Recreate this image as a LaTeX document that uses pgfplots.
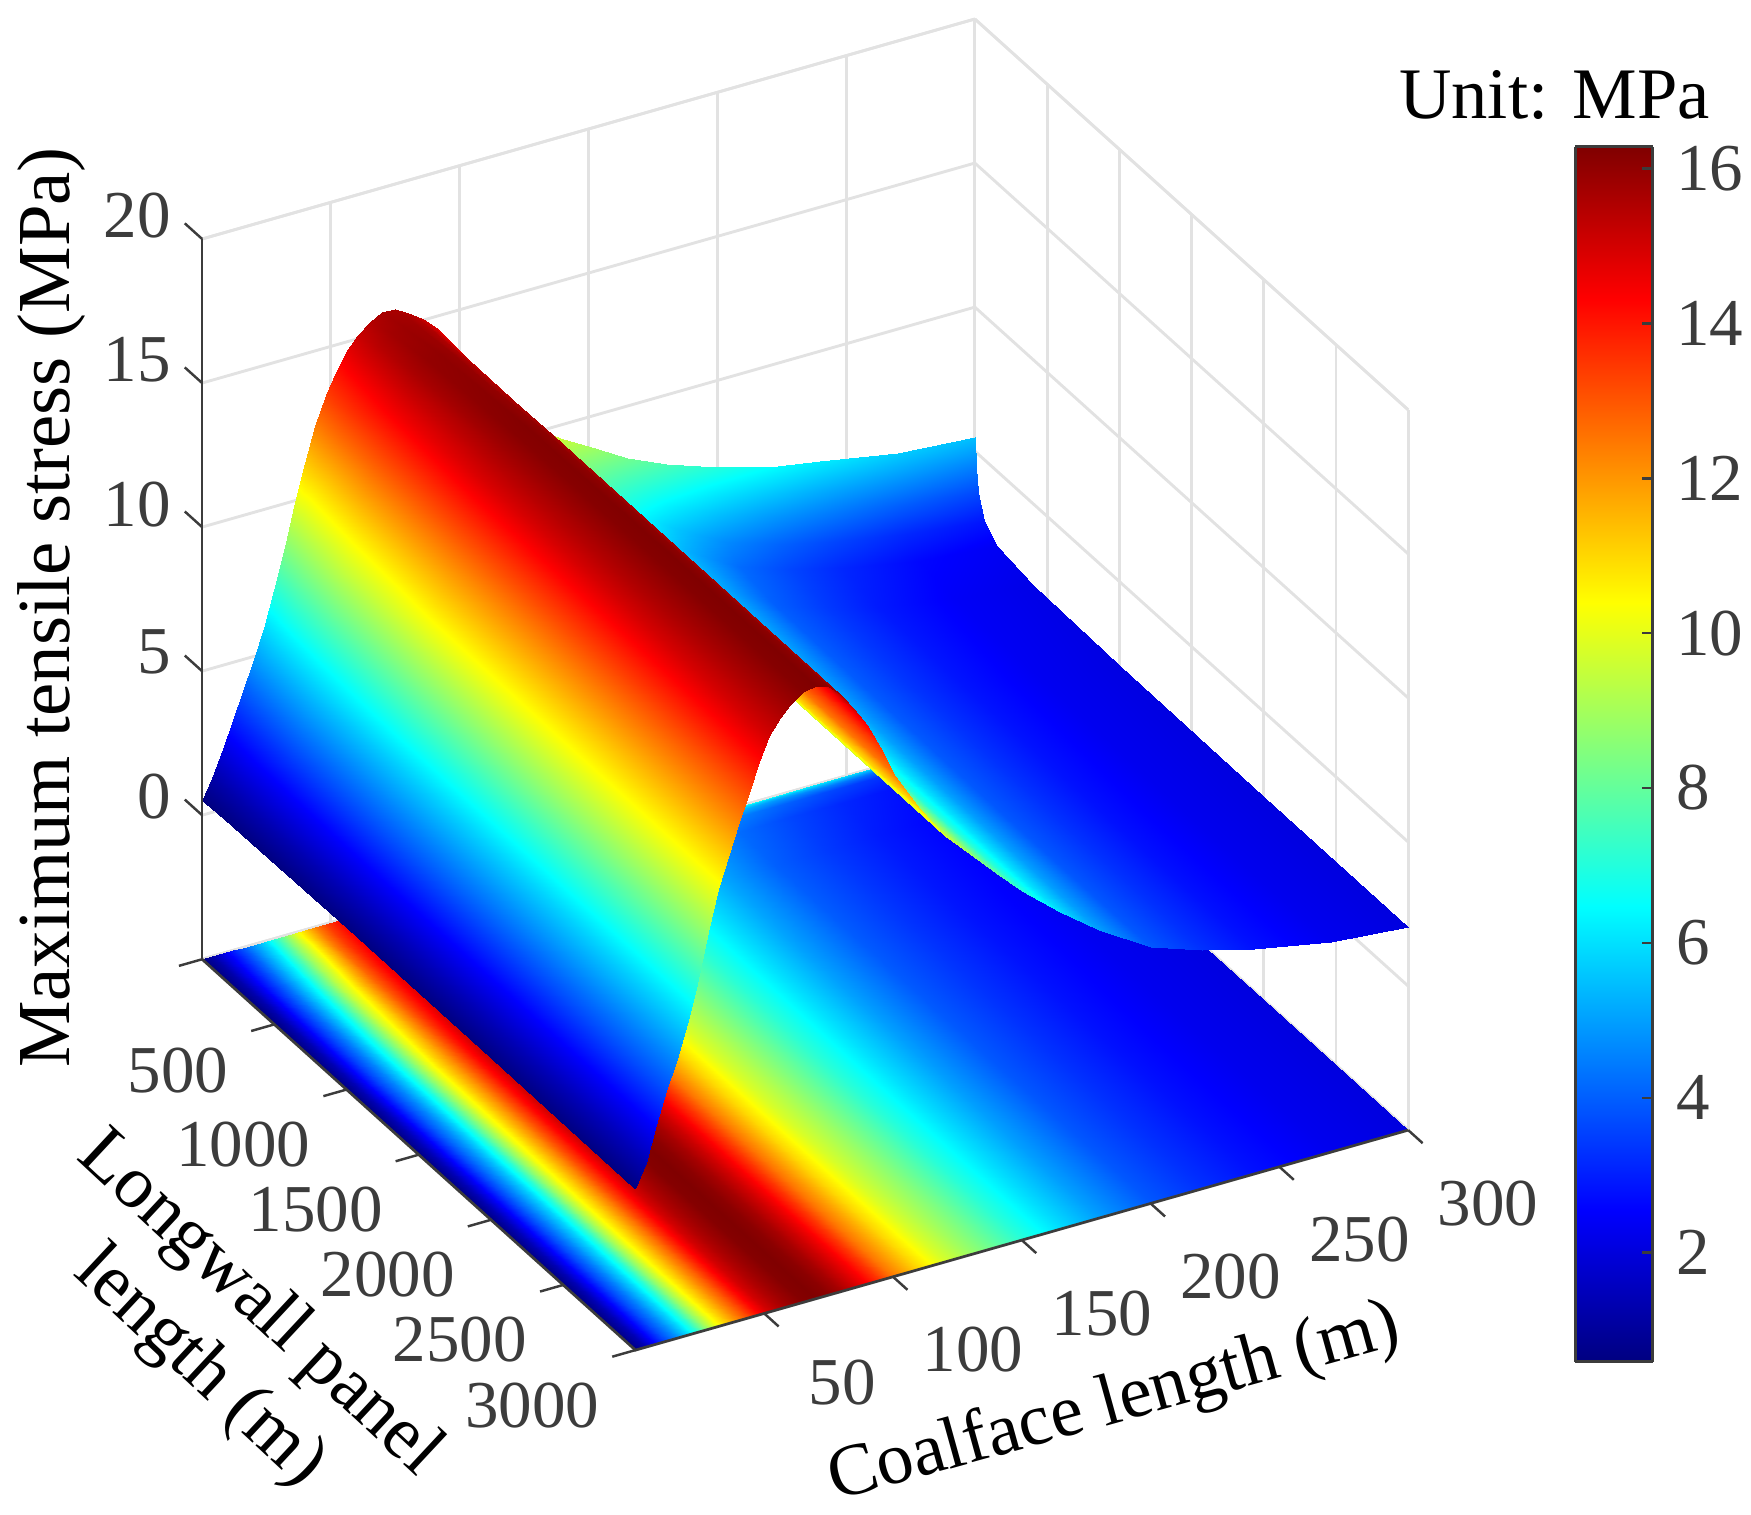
\documentclass[border=0pt]{standalone}
\usepackage{pgfplots}
\usepackage{pgfplotstable}
\usepackage{fontspec}
\setmainfont{Liberation Serif}
\pgfplotsset{compat=1.18}
\pgfplotstableread{
x y z
300 0 5.5
300 10 4.45
300 25 3.68
300 60 2.86
300 150 2.38
300 400 2.18
300 1000 2.1
300 2000 2.05
300 3000 2.05
270 0 5.7
270 10 4.75
270 25 4
270 60 3.15
270 150 2.64
270 400 2.44
270 1000 2.35
270 2000 2.3
270 3000 2.3
240 0 6.2
240 10 5.25
240 25 4.5
240 60 3.65
240 150 3.14
240 400 2.94
240 1000 2.85
240 2000 2.8
240 3000 2.8
220 0 6.5
220 10 5.6
220 25 4.9
220 60 4.1
220 150 3.62
220 400 3.43
220 1000 3.35
220 2000 3.3
220 3000 3.3
200 0 7
200 10 6.13
200 25 5.45
200 60 4.68
200 150 4.21
200 400 4.02
200 1000 3.95
200 2000 3.9
200 3000 3.9
180 0 7.6
180 10 6.87
180 25 6.3
180 60 5.65
180 150 5.26
180 400 5.1
180 1000 5.04
180 2000 5
180 3000 5
165 0 8.2
165 10 7.58
165 25 7.1
165 60 6.55
165 150 6.22
165 400 6.09
165 1000 6.03
165 2000 6
165 3000 6
150 0 9
150 10 8.47
150 25 8.05
150 60 7.58
150 150 7.29
150 400 7.18
150 1000 7.13
150 2000 7.1
150 3000 7.1
140 0 9.5
140 10 9.08
140 25 8.75
140 60 8.38
140 150 8.15
140 400 8.06
140 1000 8.02
140 2000 8
140 3000 8
130 0 10.1
130 10 9.76
130 25 9.5
130 60 9.2
130 150 9.02
130 400 8.95
130 1000 8.92
130 2000 8.9
130 3000 8.9
120 0 11
120 10 10.66
120 25 10.4
120 60 10.1
120 150 9.92
120 400 9.85
120 1000 9.82
120 2000 9.8
120 3000 9.8
110 0 12.2
110 10 11.86
110 25 11.6
110 60 11.3
110 150 11.12
110 400 11.05
110 1000 11.02
110 2000 11
110 3000 11
100 0 13.5
100 10 13.22
100 25 13.0
100 60 12.75
100 150 12.6
100 400 12.54
100 1000 12.52
100 2000 12.5
100 3000 12.5
95 0 14.1
95 10 14.09
95 25 14.07
95 60 14.04
95 150 13.95
95 400 13.77
95 1000 13.56
95 2000 13.5
95 3000 13.5
90 0 14.7
90 10 14.69
90 25 14.69
90 60 14.67
90 150 14.63
90 400 14.54
90 1000 14.43
90 2000 14.4
90 3000 14.4
85 0 15.1
85 10 15.11
85 25 15.12
85 60 15.14
85 150 15.16
85 400 15.15
85 1000 15.11
85 2000 15.1
85 3000 15.1
80 0 15.4
80 10 15.42
80 25 15.45
80 60 15.5
80 150 15.55
80 400 15.61
80 1000 15.68
80 2000 15.7
80 3000 15.7
75 0 15.65
75 10 15.66
75 25 15.68
75 60 15.72
75 150 15.8
75 400 15.92
75 1000 16.06
75 2000 16.1
75 3000 16.1
70 0 15.68
70 10 15.7
70 25 15.72
70 60 15.76
70 150 15.85
70 400 16.02
70 1000 16.22
70 2000 16.28
70 3000 16.28
65 0 15.48
65 10 15.5
65 25 15.53
65 60 15.6
65 150 15.75
65 400 15.97
65 1000 16.15
65 2000 16.2
65 3000 16.2
60 0 15.1
60 10 15.12
60 25 15.16
60 60 15.24
60 150 15.42
60 400 15.64
60 1000 15.8
60 2000 15.85
60 3000 15.85
56 0 14.65
56 10 14.67
56 25 14.7
56 60 14.76
56 150 14.9
56 400 15.14
56 1000 15.42
56 2000 15.5
56 3000 15.5
52 0 14.05
52 10 14.07
52 25 14.09
52 60 14.13
52 150 14.25
52 400 14.55
52 1000 14.9
52 2000 15
52 3000 15
48 0 13.35
48 10 13.36
48 25 13.37
48 60 13.4
48 150 13.5
48 400 13.75
48 1000 14.09
48 2000 14.2
48 3000 14.2
44 0 12.4
44 10 12.41
44 25 12.42
44 60 12.45
44 150 12.55
44 400 12.8
44 1000 13.09
44 2000 13.2
44 3000 13.2
40 0 11.2
40 10 11.21
40 25 11.22
40 60 11.25
40 150 11.35
40 400 11.7
40 1000 12.07
40 2000 12.2
40 3000 12.2
36 0 9.95
36 10 9.96
36 25 9.98
36 60 10.01
36 150 10.15
36 400 10.55
36 1000 11.04
36 2000 11.2
36 3000 11.2
32 0 8.5
32 10 8.52
32 25 8.55
32 60 8.6
32 150 8.85
32 400 9.4
32 1000 10.01
32 2000 10.2
32 3000 10.2
28 0 7.1
28 10 7.12
28 25 7.15
28 60 7.22
28 150 7.45
28 400 7.99
28 1000 8.62
28 2000 8.8
28 3000 8.8
24 0 5.9
24 10 5.92
24 25 5.96
24 60 6.02
24 150 6.2
24 400 6.56
24 1000 6.98
24 2000 7.1
24 3000 7.1
20 0 4.9
20 10 4.92
20 25 4.95
20 60 4.99
20 150 5.13
20 400 5.4
20 1000 5.71
20 2000 5.8
20 3000 5.8
16 0 3.9
16 10 3.92
16 25 3.94
16 60 3.98
16 150 4.1
16 400 4.34
16 1000 4.62
16 2000 4.7
16 3000 4.7
12 0 3.0
12 10 3.01
12 25 3.04
12 60 3.07
12 150 3.18
12 400 3.39
12 1000 3.63
12 2000 3.7
12 3000 3.7
8 0 2.1
8 10 2.11
8 25 2.13
8 60 2.15
8 150 2.23
8 400 2.38
8 1000 2.55
8 2000 2.6
8 3000 2.6
4 0 1.2
4 10 1.2
4 25 1.21
4 60 1.22
4 150 1.25
4 400 1.31
4 1000 1.38
4 2000 1.4
4 3000 1.4
0 0 0.5
0 10 0.5
0 25 0.5
0 60 0.51
0 150 0.53
0 400 0.56
0 1000 0.59
0 2000 0.6
0 3000 0.6
}\stress
\definecolor{tickc}{RGB}{60,60,60}
\definecolor{gridc}{RGB}{226,226,226}
\newcommand{\bigfont}{\fontsize{30}{36}\selectfont}
\newcommand{\labfont}{\fontsize{33.5}{39}\selectfont}
\newcommand{\tnode}[4]{\node[font=\labfont,#3] at ([shift={({(#1-181)*0.5pt},{(859-#2)*0.5pt})}]O) {#4};}
\begin{document}
\begin{tikzpicture}
\begin{axis}[
  x={(1.1533pt,0.3283pt)}, y={(-0.06467pt,0.05833pt)}, z={(0pt,12.9pt)},
  y dir=reverse,
  xmin=0,xmax=300,ymin=0,ymax=3000,zmin=-5,zmax=20,
  xtick={50,100,...,300},
  ytick={0,500,...,3000}, yticklabels={,500,1000,1500,2000,2500,3000},
  ztick={-5,0,...,20}, zticklabels={,0,5,10,15,20},
  grid=major,
  major grid style={draw=gridc,line width=1.3pt},
  axis line style={draw=gridc,line width=1.2pt},
  major tick length=0pt,
  /pgf/number format/assume math mode=true,
  /pgf/number format/1000 sep={},
  ticklabel style={font=\bigfont,text=tickc},
  xticklabel style={xshift=27.5pt,yshift=-14pt},
  yticklabel style={xshift=-26.5pt,yshift=1.5pt},
  zticklabel style={xshift=-10.5pt,yshift=6pt},
  clip=false,
  colormap/jet,
  point meta min=0.59, point meta max=16.28,
]
\coordinate (O) at (axis cs:0,0,-5);
\addplot3[surf,shader=interp,z buffer=none,mesh/ordering=y varies,mesh/rows=9,mesh/cols=36,
  point meta=explicit] table[x=x,y=y,z expr=-5,meta=z] {\stress};
\addplot3[surf,shader=interp,z buffer=none,mesh/ordering=y varies,mesh/rows=9,mesh/cols=36,
  point meta=explicit] table[x=x,y=y,z=z,meta=z] {\stress};
\draw[draw=tickc,line width=1.2pt] (axis cs:0,0,-5)--(axis cs:0,0,20);
\draw[draw=tickc,line width=1.2pt] (axis cs:0,0,-5)--(axis cs:0,3000,-5)--(axis cs:300,3000,-5);
\pgfplotsinvokeforeach{50,100,...,300}{
  \draw[draw=tickc,line width=1.1pt] (axis cs:#1,3000,-5)--(axis cs:#1,3100,-5);}
\pgfplotsinvokeforeach{0,500,...,3000}{
  \draw[draw=tickc,line width=1.1pt] (axis cs:0,#1,-5)--(axis cs:-9,#1,-5);}
\pgfplotsinvokeforeach{0,5,...,20}{
  \draw[draw=tickc,line width=1.1pt] (axis cs:0,0,#1)--(axis cs:0,-120,#1);}
\end{axis}
\coordinate (CB) at ([shift={(614.75pt,-180.25pt)}]O);
\begin{axis}[
  at={(CB)}, anchor=south west,
  scale only axis, width=34.8pt, height=544pt,
  view={0}{90},
  xmin=0,xmax=1,ymin=0.59,ymax=16.28,
  xtick=\empty, ztick=\empty,
  ytick={2,4,...,16},
  ytick pos=right, yticklabel pos=right,
  tick align=inside,
  major tick length=5pt,
  tick style={draw=tickc,line width=1.1pt},
  axis line style={draw=tickc,line width=1.3pt},
  axis on top,
  /pgf/number format/assume math mode=true,
  ticklabel style={font=\bigfont,text=tickc},
  yticklabel style={anchor=west,xshift=7pt},
  colormap/jet,
  point meta min=0.59, point meta max=16.28,
]
\addplot3[surf,shader=interp,mesh/cols=2,mesh/rows=2,point meta=explicit] coordinates {
(0,0.59,0) [0.59] (1,0.59,0) [0.59]
(0,16.28,0) [16.28] (1,16.28,0) [16.28]
};
\end{axis}
\tnode{46}{544}{rotate=90}{Maximum tensile stress (MPa)}
\tnode{998}{1258}{rotate=15.5,font=\fontsize{33}{39}\selectfont}{Coalface length (m)}
\tnode{205}{1197}{rotate=-43,align=center}{Longwall panel\\length (m)}
\tnode{1392}{85}{font=\fontsize{32.5}{39}\selectfont}{Unit: MPa}
\pgfresetboundingbox
\path[use as bounding box] ([shift={(-90.5pt,429.5pt)}]O) rectangle ([shift={(693.5pt,-248.5pt)}]O);
\end{tikzpicture}
\end{document}
